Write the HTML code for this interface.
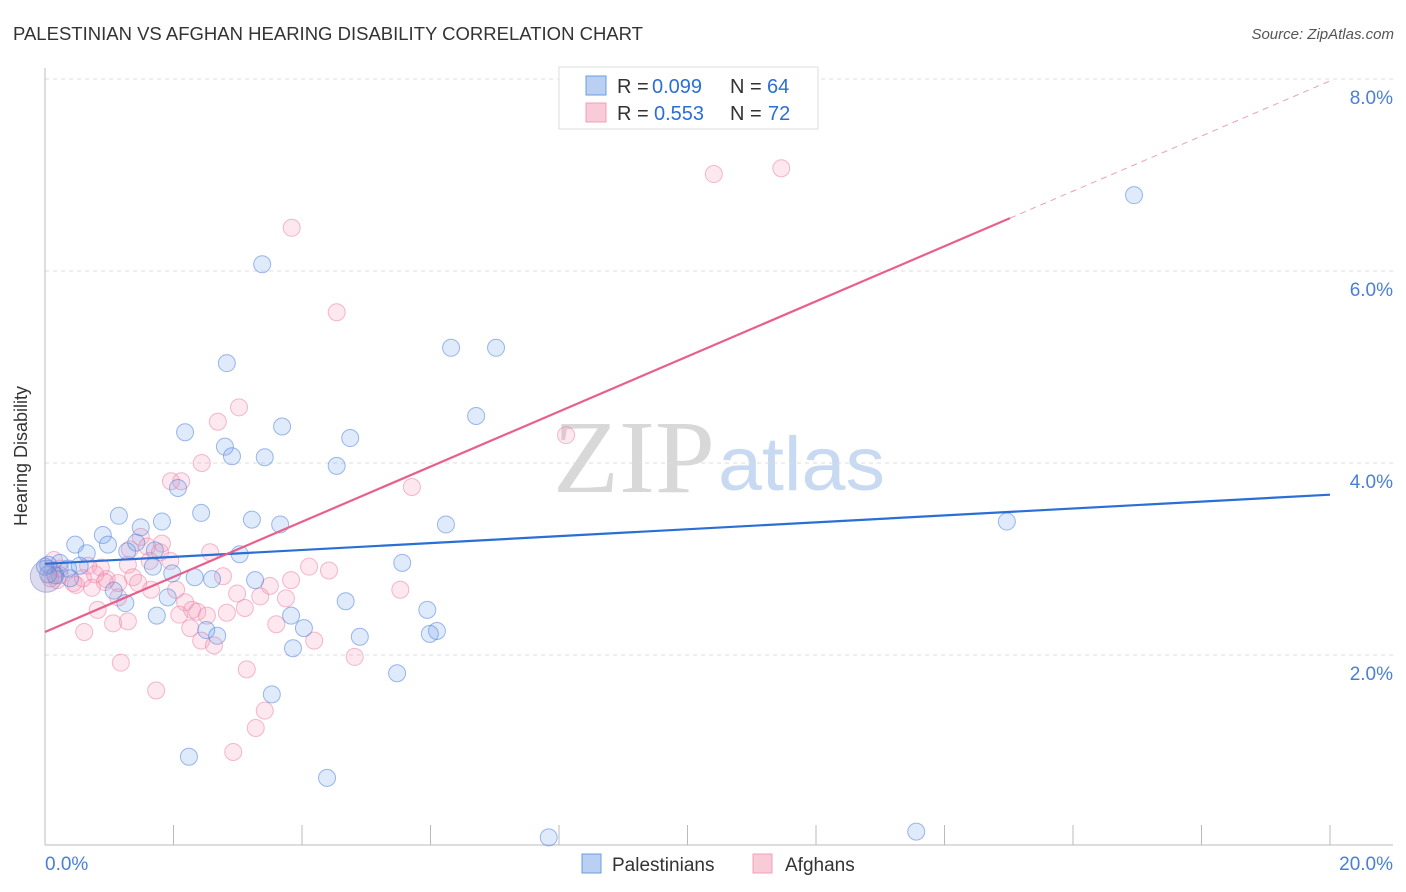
<!DOCTYPE html>
<html><head><meta charset="utf-8"><style>
body{margin:0;background:#fff;font-family:"Liberation Sans",sans-serif;}
#wrap{position:relative;width:1406px;height:892px;overflow:hidden;}
</style></head><body>
<div id="wrap">
<svg id="svg" width="1406" height="892" xmlns="http://www.w3.org/2000/svg">
<text x="13" y="40" font-size="18" fill="#333" textLength="630" lengthAdjust="spacingAndGlyphs">PALESTINIAN VS AFGHAN HEARING DISABILITY CORRELATION CHART</text>
<text x="1394" y="39" font-size="15" fill="#555" font-style="italic" text-anchor="end">Source: ZipAtlas.com</text>
<text x="27" y="456" font-size="18" fill="#333" text-anchor="middle" transform="rotate(-90 27 456)">Hearing Disability</text>
<g>
<text x="553" y="492" font-size="104" font-family="Liberation Serif,serif" fill="#d8d8d8" textLength="162" lengthAdjust="spacingAndGlyphs">ZIP</text>
<text x="718" y="490" font-size="76" fill="#c8daf2" textLength="167" lengthAdjust="spacingAndGlyphs">atlas</text>
</g>
<g id="grid"></g><g id="axes"></g><g id="pts"></g><g id="lines"></g>
<g>
<rect x="559" y="67" width="259" height="62" fill="#fff" stroke="#ddd"/>
<rect x="586" y="76" width="20" height="19" fill="#b9d0f3" stroke="#6a9be0"/>
<rect x="586" y="103" width="20" height="19" fill="#f9cad8" stroke="#f0a0b8"/>
<text y="93" font-size="20" fill="#333"><tspan x="617">R =</tspan><tspan x="652" fill="#2a6fd6">0.099</tspan><tspan x="730">N =</tspan><tspan x="767" fill="#2a6fd6">64</tspan></text>
<text y="120" font-size="20" fill="#333"><tspan x="617">R =</tspan><tspan x="654" fill="#2a6fd6">0.553</tspan><tspan x="730">N =</tspan><tspan x="768" fill="#2a6fd6">72</tspan></text>
</g>
<g>
<rect x="582" y="854" width="19" height="19" fill="#b9d0f3" stroke="#6a9be0"/>
<text x="612" y="871" font-size="19" fill="#333">Palestinians</text>
<rect x="753" y="854" width="19" height="19" fill="#f9cad8" stroke="#f0a0b8"/>
<text x="785" y="871" font-size="19" fill="#333">Afghans</text>
</g>
</svg>
</div>
<script>
const yTicks=[2,4,6,8];
const yTickLabels=["2.0%","4.0%","6.0%","8.0%"];
const xTickLabels=["0.0%","20.0%"];
const blueX=[3.38,2.83,6.32,7.02,6.71,2.18,3.69,2.80,2.91,3.42,4.75,4.54,2.07,2.43,1.15,1.82,1.49,3.22,3.66,6.24,0.90,0.47,0.98,1.28,0.65,1.42,1.71,3.03,5.56,0.23,0.36,0.05,0.16,0.39,1.68,1.98,2.33,2.60,3.27,1.07,1.91,1.25,1.74,4.68,3.83,5.95,2.51,2.68,4.03,4.90,6.10,5.99,3.86,5.48,3.53,2.24,4.39,7.84,13.56,16.95,14.97,0.05,0.0,0.54];
const blueY=[6.07,5.04,5.20,5.20,4.49,4.32,4.38,4.17,4.07,4.06,4.26,3.97,3.74,3.48,3.45,3.39,3.33,3.41,3.36,3.36,3.25,3.15,3.15,3.08,3.06,3.17,3.09,3.05,2.96,2.96,2.90,2.94,2.83,2.80,2.92,2.85,2.81,2.79,2.78,2.67,2.60,2.54,2.41,2.56,2.41,2.47,2.26,2.20,2.28,2.19,2.25,2.22,2.07,1.81,1.59,0.94,0.72,0.10,0.16,6.79,3.39,2.84,2.92,2.93];
const pinkX=[3.84,4.54,10.41,11.46,3.02,2.69,2.44,8.11,5.71,1.96,2.12,1.49,1.59,1.79,2.57,1.95,1.29,0.87,0.67,0.23,0.08,0.19,0.44,0.96,1.37,2.77,3.83,3.50,4.11,4.42,2.04,1.65,0.73,0.48,1.14,2.99,3.35,3.75,5.53,2.18,0.82,2.29,2.09,2.37,2.52,2.83,3.11,3.60,1.29,1.06,0.61,2.26,2.43,2.63,4.19,4.82,1.18,3.14,1.73,3.42,3.28,2.93,0.59,0.23,1.63,1.45,1.14,1.32,1.82,0.93,0.78,0.14];
const pinkY=[6.45,5.57,7.01,7.07,4.58,4.43,4.00,4.29,3.75,3.81,3.81,3.23,3.13,3.07,3.07,2.98,2.94,2.91,2.93,2.90,2.80,2.78,2.75,2.79,2.81,2.82,2.78,2.72,2.92,2.88,2.68,2.68,2.70,2.73,2.75,2.64,2.61,2.59,2.68,2.55,2.47,2.47,2.42,2.45,2.41,2.44,2.49,2.32,2.35,2.33,2.24,2.28,2.15,2.10,2.15,1.98,1.92,1.85,1.63,1.42,1.24,0.99,2.80,2.83,2.98,2.75,2.60,3.10,3.16,2.76,2.84,2.99];
const blueTrend=[2.95,3.67];
const pinkTrend=[2.24,0.287];
const pinkSolidEnd=15.02;

const NS="http://www.w3.org/2000/svg";
const X0=45,X1=1330,YB=847,PPU=96;
const sx=v=>X0+(v/20)*(X1-X0);
const sy=v=>YB-v*PPU;
function mk(tag,attrs,parent){const e=document.createElementNS(NS,tag);for(const k in attrs)e.setAttribute(k,attrs[k]);document.getElementById(parent).appendChild(e);return e;}

yTicks.forEach((t,i)=>{
  const g=mk('line',{x1:45,x2:1393,y1:sy(t),y2:sy(t),stroke:'#ddd','stroke-dasharray':'4,4'},'grid');
  
  
  const l=mk('text',{x:1393,y:sy(t)+25,'font-size':19,fill:'#4a7fd6','text-anchor':'end'},'grid');
  l.textContent=yTickLabels[i];
  
  
});
const ax=mk('line',{x1:45,x2:45,y1:68,y2:845,stroke:'#bbb'},'axes');


const bx=mk('line',{x1:45,x2:1393,y1:845,y2:845,stroke:'#bbb'},'axes');


for(let i=1;i<=10;i++){
  const t=mk('line',{x1:sx(i*2),x2:sx(i*2),y1:825,y2:845,stroke:'#bbb'},'axes');
  
  
}
const xl0=mk('text',{x:45,y:870,'font-size':19,fill:'#4a7fd6'},'axes');
xl0.textContent=xTickLabels[0];


const xl1=mk('text',{x:1393,y:870,'font-size':19,fill:'#4a7fd6','text-anchor':'end'},'axes');
xl1.textContent=xTickLabels[1];



pinkX.forEach((x,i)=>{
  const c=mk('circle',{cx:sx(x),cy:sy(pinkY[i]),r:8.5,fill:'rgba(244,150,180,0.22)',stroke:'rgba(236,130,165,0.55)','stroke-width':1},'pts');
  
  
});
blueX.forEach((x,i)=>{
  const c=mk('circle',{cx:sx(x),cy:sy(blueY[i]),r:8.5,fill:'rgba(110,160,235,0.22)',stroke:'rgba(80,130,220,0.55)','stroke-width':1},'pts');
  
  
});
const big=mk('circle',{cx:sx(0.02),cy:sy(2.82),r:16,fill:'rgba(140,140,200,0.3)',stroke:'rgba(120,130,210,0.5)'},'pts');



const bl=mk('line',{x1:sx(0),y1:sy(blueTrend[0]),x2:sx(20),y2:sy(blueTrend[1]),stroke:'#2a6fd6','stroke-width':2.2},'lines');


const pf=x=>pinkTrend[0]+pinkTrend[1]*x;
const pl=mk('line',{x1:sx(0),y1:sy(pf(0)),x2:sx(pinkSolidEnd),y2:sy(pf(pinkSolidEnd)),stroke:'#e8608a','stroke-width':2.2},'lines');


const pd=mk('line',{x1:sx(pinkSolidEnd),y1:sy(pf(pinkSolidEnd)),x2:sx(20),y2:sy(pf(20)),stroke:'#eaa0b8','stroke-width':1,'stroke-dasharray':'6,5'},'lines');


</script>
</body></html>
